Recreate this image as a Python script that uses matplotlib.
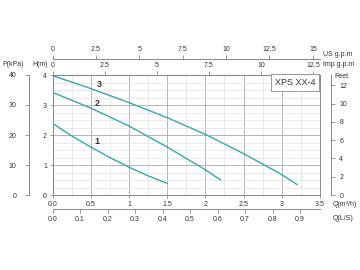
import matplotlib
matplotlib.use("Agg")
import matplotlib.pyplot as plt
from matplotlib.ticker import MultipleLocator

plt.rcParams['font.family'] = ['Liberation Sans', 'DejaVu Sans']

# ---- data (Q in m3/h, H in m) ----
q1 = [0.0, 0.25, 0.5, 0.75, 1.0, 1.25, 1.5]
h1 = [2.39, 1.97, 1.60, 1.25, 0.93, 0.64, 0.39]
q2 = [0.0, 0.5, 1.0, 1.5, 2.0, 2.2]
h2 = [3.42, 2.90, 2.30, 1.60, 0.84, 0.50]
q3 = [0.0, 0.5, 1.0, 1.5, 2.0, 2.5, 3.0, 3.2]
h3 = [3.98, 3.55, 3.08, 2.58, 2.02, 1.38, 0.68, 0.35]
curve_names = ["1", "2", "3"]
label_pos = [(0.58, 1.78), (0.58, 3.06), (0.61, 3.67)]

q_ticks = [0, 0.5, 1, 1.5, 2, 2.5, 3, 3.5]
q_labels = ["0.0", "0.5", "1", "1.5", "2", "2.5", "3", "3.5"]
h_ticks = [0, 1, 2, 3, 4]
us_ticks = [0, 2.5, 5, 7.5, 10, 12.5, 15]
us_labels = ["0", "2.5", "5", "7.5", "10", "12.5", "15"]
imp_ticks = [0, 2.5, 5, 7.5, 10, 12.5]
imp_labels = ["0", "2.5", "5", "7.5", "10", "12.5"]
ls_ticks = [0.0, 0.1, 0.2, 0.3, 0.4, 0.5, 0.6, 0.7, 0.8, 0.9]
ls_labels = ["0.0", "0.1", "0.2", "0.3", "0.4", "0.5", "0.6", "0.7", "0.8", "0.9"]
p_ticks = [0, 10, 20, 30, 40]
ft_ticks = [0, 2, 4, 6, 8, 10, 12]
model_name = "XPS XX-4"

US = 4.403
IMP = 3.666
LS = 1 / 3.6
KPA = 10.0
FT = 3.2808

line_color = '#35a9ac'
spine_c = '#888888'
text_c = '#333333'
fs = 5

fig = plt.figure(figsize=(3.6, 2.7), dpi=100)
ax = fig.add_axes([52.5 / 360, 1 - 195 / 270, 267.5 / 360, 120 / 270])
ax.set_xlim(0, 3.5)
ax.set_ylim(0, 4)

# grid
ax.xaxis.set_minor_locator(MultipleLocator(0.25))
ax.yaxis.set_minor_locator(MultipleLocator(0.25))
ax.grid(which='major', color='#a8a8a8', lw=0.6)
ax.grid(which='minor', color='#e2e2e2', lw=0.5)
ax.tick_params(which='minor', length=0)
ax.set_axisbelow(True)

for q, h in [(q1, h1), (q2, h2), (q3, h3)]:
    ax.plot(q, h, color=line_color, lw=1.0)
for name, (x, y) in zip(curve_names, label_pos):
    ax.text(x, y, name, fontsize=6.5, fontweight='bold', color=text_c,
            ha='center', va='center')

for s in ax.spines.values():
    s.set_color(spine_c)
    s.set_linewidth(0.7)

ax.set_xticks(q_ticks)
ax.set_xticklabels(q_labels)
ax.set_yticks(h_ticks)
ax.tick_params(axis='both', which='major', labelsize=fs, colors=spine_c,
               labelcolor=text_c, length=2, width=0.6, pad=2)

# Imp gpm on top spine
imp = ax.secondary_xaxis('top', functions=(lambda x: x * IMP, lambda x: x / IMP))
imp.set_xticks(imp_ticks)
imp.set_xticklabels(imp_labels)
imp.tick_params(labelsize=fs, colors=spine_c, labelcolor=text_c, length=3, width=0.6, pad=1)
imp.spines['top'].set_color(spine_c)

# US gpm above
us = ax.secondary_xaxis(136 / 120, functions=(lambda x: x * US, lambda x: x / US))
us.set_xticks(us_ticks)
us.set_xticklabels(us_labels)
us.tick_params(labelsize=fs, colors=spine_c, labelcolor=text_c, length=3, width=0.6, pad=1)
us.spines['top'].set_color(spine_c)
us.spines['top'].set_linewidth(0.7)

# L/s below
ls = ax.secondary_xaxis(-14 / 120, functions=(lambda x: x * LS, lambda x: x / LS))
ls.set_xticks(ls_ticks)
ls.set_xticklabels(ls_labels)
ls.tick_params(labelsize=fs, colors=spine_c, labelcolor=text_c, length=3, width=0.6, pad=2)
ls.spines['bottom'].set_color(spine_c)
ls.spines['bottom'].set_linewidth(0.7)

# P kPa left
p = ax.secondary_yaxis((29 - 52.5) / 267.5, functions=(lambda x: x * KPA, lambda x: x / KPA))
p.set_yticks(p_ticks)
p.tick_params(labelsize=fs, colors=spine_c, labelcolor=text_c, length=3, width=0.6, pad=6)
p.spines['left'].set_color(spine_c)
p.spines['left'].set_linewidth(0.7)

# Feet right
ft = ax.secondary_yaxis((331 - 52.5) / 267.5, functions=(lambda x: x * FT, lambda x: x / FT))
ft.set_yticks(ft_ticks)
ft.tick_params(labelsize=fs, colors=spine_c, labelcolor=text_c, length=3, width=0.6, pad=3)
ft.spines['right'].set_color(spine_c)
ft.spines['right'].set_linewidth(0.7)

# model box
ax.text(0.906, 0.94, model_name, transform=ax.transAxes, fontsize=6.5,
        color=text_c, ha='center', va='center',
        bbox=dict(boxstyle='square,pad=0.45', fc='white', ec=spine_c, lw=0.6))

# axis labels
fig.text(13 / 360, 1 - 65 / 270, "P(kPa)", fontsize=fs, color=text_c, ha='center', va='center')
fig.text(40 / 360, 1 - 65 / 270, "H(m)", fontsize=fs, color=text_c, ha='center', va='center')
fig.text(323 / 360, 1 - 55 / 270, "US g.p.m", fontsize=fs, color=text_c, ha='left', va='center')
fig.text(323 / 360, 1 - 64 / 270, "Imp g.p.m", fontsize=fs, color=text_c, ha='left', va='center')
fig.text(334 / 360, 1 - 76 / 270, "Feet", fontsize=fs, color=text_c, ha='left', va='center')
fig.text(333 / 360, 1 - 205 / 270, "Q(m\u00b3/h)", fontsize=fs, color=text_c, ha='left', va='center')
fig.text(333 / 360, 1 - 218 / 270, "Q(L/S)", fontsize=fs, color=text_c, ha='left', va='center')

fig.savefig("out.png", dpi=100)
